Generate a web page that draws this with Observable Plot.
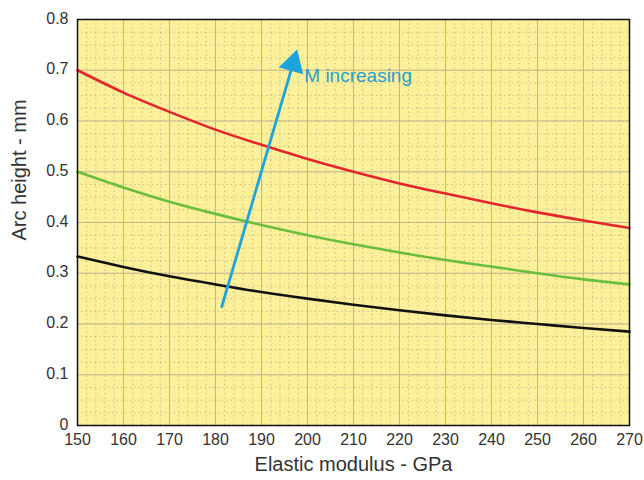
<!DOCTYPE html>
<html><head><meta charset="utf-8">
<script src="https://cdn.jsdelivr.net/npm/d3@7"></script>
<script src="https://cdn.jsdelivr.net/npm/@observablehq/plot@0.6"></script>
<style>body{margin:0;background:#fff;}</style>
</head><body><div id="chart"></div>
<script>
const modulus = [150,160,170,180,190,200,210,220,230,240,250,260,270];
const arcHigh = [0.700,0.656,0.618,0.583,0.553,0.525,0.500,0.477,0.457,0.438,0.420,0.404,0.389];
const arcMid  = [0.500,0.469,0.441,0.417,0.395,0.375,0.357,0.341,0.326,0.313,0.300,0.288,0.278];
const arcLow  = [0.333,0.3125,0.294,0.278,0.263,0.250,0.238,0.227,0.217,0.208,0.200,0.192,0.185];
const xTicks = [150,160,170,180,190,200,210,220,230,240,250,260,270];
const yTicks = [0,0.1,0.2,0.3,0.4,0.5,0.6,0.7,0.8];
const yTickLabels = ["0","0.1","0.2","0.3","0.4","0.5","0.6","0.7","0.8"];
const arrowFrom = [181.3, 0.232];
const arrowTo = [197.4, 0.730];
const noteText = "M increasing";
const notePos = [199.3, 0.688];

const W = 644, H = 480, ML = 77, MR = 15, MT = 19, MB = 55;
const xDomain = [150, 270], yDomain = [0, 0.8];
const minorX = d3.range(150, 270.01, 2);
const minorY = d3.range(0, 0.801, 0.025);

const series = [
  {name:"high", vals: arcHigh, color:"#e3262b"},
  {name:"mid", vals: arcMid, color:"#6bbd3e"},
  {name:"low", vals: arcLow, color:"#111111"}
];
const rows = series.flatMap(s => modulus.map((m,i)=>({E:m, h:s.vals[i], s:s.name, c:s.color})));

// arrow head orientation from the same linear mapping Plot uses
const sx = d3.scaleLinear(xDomain, [ML, W - MR]);
const sy = d3.scaleLinear(yDomain, [H - MB, MT]);
const pdx = sx(arrowTo[0]) - sx(arrowFrom[0]);
const pdy = sy(arrowTo[1]) - sy(arrowFrom[1]);
const plen = Math.hypot(pdx, pdy);
const headAngle = Math.atan2(pdx, -pdy) * 180 / Math.PI;
const back = 9;
const headPos = {x: sx.invert(sx(arrowTo[0]) - pdx / plen * back), y: sy.invert(sy(arrowTo[1]) - pdy / plen * back)};
const shaftEnd = {x: sx.invert(sx(arrowTo[0]) - pdx / plen * 12), y: sy.invert(sy(arrowTo[1]) - pdy / plen * 12)};

const chart = Plot.plot({
  width: W, height: H,
  marginLeft: ML, marginRight: MR, marginTop: MT, marginBottom: MB,
  style: {fontFamily: "'Liberation Sans', Arial, sans-serif", fontSize: "16px", color: "#333", background: "#fff", overflow: "visible"},
  x: {domain: xDomain},
  y: {domain: yDomain},
  marks: [
    Plot.frame({fill: "#fcf09b", stroke: "none"}),
    Plot.ruleX(minorX, {stroke: "#8a8070", strokeOpacity: 0.55, strokeDasharray: "1.2,3.2", strokeWidth: 1}),
    Plot.ruleY(minorY, {stroke: "#8a8070", strokeOpacity: 0.55, strokeDasharray: "1.2,3.2", strokeWidth: 1}),
    Plot.ruleX(xTicks, {stroke: "#c2b78c", strokeWidth: 1}),
    Plot.ruleY(yTicks, {stroke: "#c2b78c", strokeWidth: 1}),
    Plot.line(rows, {x: "E", y: "h", z: "s", stroke: "c", strokeWidth: 2.6, curve: "natural"}),
    Plot.link([{x1: arrowFrom[0], y1: arrowFrom[1], x2: shaftEnd.x, y2: shaftEnd.y}],
      {x1: "x1", y1: "y1", x2: "x2", y2: "y2", stroke: "#1ea4dc", strokeWidth: 2.8}),
    Plot.dot([headPos], {x: "x", y: "y", symbol: "triangle", r: 9.5, fill: "#1ea4dc", stroke: "none", rotate: headAngle}),
    Plot.text([noteText], {x: notePos[0], y: notePos[1], text: d => d, textAnchor: "start", fill: "#2a9fcf", fontSize: 19}),
    Plot.frame({stroke: "#111", strokeWidth: 1.5}),
    Plot.axisX(xTicks, {tickSize: 0, tickPadding: 8, fontSize: 16, fill: "#333", label: null, tickFormat: d => String(d)}),
    Plot.axisY(yTicks, {tickSize: 0, tickPadding: 9, fontSize: 16, fill: "#333", label: null, dy: -1, tickFormat: (d, i) => yTickLabels[i]}),
    Plot.text(["Elastic modulus - GPa"], {frameAnchor: "bottom", dy: 39, text: d => d, fontSize: 20, fill: "#333", lineAnchor: "middle"}),
    Plot.text(["Arc height - mm"], {frameAnchor: "left", dx: -58, dy: 18, rotate: -90, text: d => d, fontSize: 20, fill: "#333"})
  ]
});
document.getElementById("chart").appendChild(chart);
</script>
</body></html>
